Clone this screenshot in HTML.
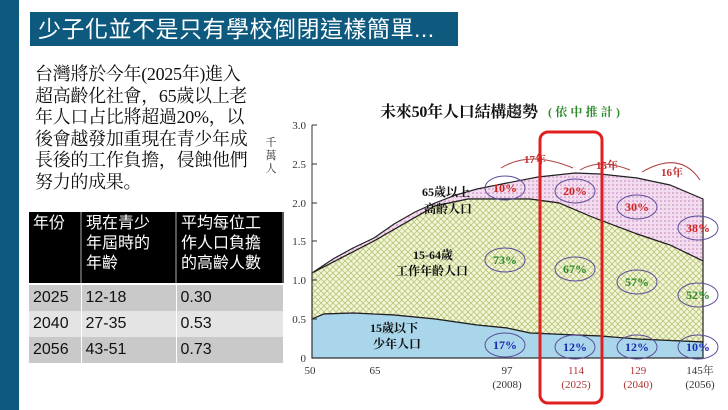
<!DOCTYPE html>
<html><head><meta charset="utf-8"><style>
body{margin:0;width:728px;height:410px;background:#fff;position:relative;overflow:hidden;font-family:"Liberation Sans","Noto Sans CJK TC",sans-serif}
.bar{position:absolute;left:0;top:0;width:19px;height:410px;background:#0d5a7e}
.title{position:absolute;left:30px;top:12px;width:428px;height:34px;background:#0d5a7e;color:#fff;font-size:23px;line-height:34px;padding-left:8px;box-sizing:border-box;white-space:nowrap;letter-spacing:0.5px}
.txt{position:absolute;left:35px;top:64px;width:240px;font-family:"Liberation Serif","Noto Serif CJK SC",serif;font-size:18px;line-height:21.5px;color:#111;white-space:nowrap;letter-spacing:-0.3px}
table{position:absolute;left:29px;top:212px;border-collapse:collapse;font-size:16px;color:#111}
td{padding:0 4px;border-right:1px solid #fff;vertical-align:top;white-space:nowrap}
tr.h td{background:#000;color:#fff;height:69px;line-height:20px;padding-top:2px;border-right:2px solid #555;border-bottom:2px solid #fff}
tr.a td{background:#c9c9c9;height:26px;line-height:26px}
tr.b td{background:#e4e4e4;height:26px;line-height:26px}
</style></head><body>
<div class="bar"></div>
<div class="title">少子化並不是只有學校倒閉這樣簡單...</div>
<div class="txt">台灣將於今年(2025年)進入<br>超高齡化社會，65歲以上老<br>年人口占比將超過20%，以<br>後會越發加重現在青少年成<br>長後的工作負擔，侵蝕他們<br>努力的成果。</div>
<table>
<tr class="h"><td style="width:43px">年份</td><td style="width:85px">現在青少<br>年屆時的<br>年齡</td><td style="width:97px">平均每位工<br>作人口負擔<br>的高齡人數</td></tr>
<tr class="a"><td>2025</td><td>12-18</td><td>0.30</td></tr>
<tr class="b"><td>2040</td><td>27-35</td><td>0.53</td></tr>
<tr class="a"><td>2056</td><td>43-51</td><td>0.73</td></tr>
</table>
<svg style="position:absolute;left:0;top:0" width="728" height="410" font-family="Liberation Serif,Noto Serif CJK TC,serif">
<defs>
<pattern id="pk" width="4" height="4" patternUnits="userSpaceOnUse"><rect width="4" height="4" fill="#f3dcef"/><circle cx="1" cy="1" r="0.8" fill="#c080b8"/></pattern>
<pattern id="gr" width="6" height="6" patternUnits="userSpaceOnUse"><rect width="6" height="6" fill="#f4f6d8"/><path d="M0 6L6 0M0 0L6 6" stroke="#b8c47a" stroke-width="0.8"/></pattern>
</defs>
<path d="M312,273 L333,259 353,248 374,238 394,224 415,212 435,203 456,195 477,189 507,183 538,177 575,173 600,174 637,178 670,185 703,199 L703,261 670,245 637,234 592,217 559,203 530,199 468,199 435,206 374,241 Z" fill="url(#pk)" stroke="#222" stroke-width="1.2"/>
<path d="M312,273 L374,241 435,206 468,199 530,199 559,203 592,217 637,234 670,245 703,261 L703,342 637,339 600,336 575,335 530,333 507,328 477,325 435,319 394,315 353,313 324,314 312,319 Z" fill="url(#gr)" stroke="#222" stroke-width="1.2"/>
<path d="M312,319 L324,314 353,313 394,315 435,319 477,325 507,328 530,333 575,335 600,336 637,339 703,342 L703,358 312,358 Z" fill="#a9d6ea" stroke="#222" stroke-width="1.2"/>
<g stroke="#333" stroke-width="1"><line x1="312" y1="125" x2="312" y2="358"/><line x1="312" y1="358" x2="703" y2="358"/>
<line x1="312" y1="125" x2="317" y2="125"/><line x1="312" y1="164" x2="317" y2="164"/><line x1="312" y1="203" x2="317" y2="203"/><line x1="312" y1="241" x2="317" y2="241"/><line x1="312" y1="280" x2="317" y2="280"/><line x1="312" y1="319" x2="317" y2="319"/></g>
<g font-size="11" fill="#333" text-anchor="end"><text x="306" y="129">3.0</text><text x="306" y="168">2.5</text><text x="306" y="207">2.0</text><text x="306" y="245">1.5</text><text x="306" y="284">1.0</text><text x="306" y="323">0.5</text><text x="306" y="362">0</text></g>
<g font-size="11" fill="#333" text-anchor="middle"><text x="310" y="374">50</text><text x="375" y="374">65</text><text x="507" y="374">97</text><text x="507" y="388">(2008)</text><text x="700" y="374">145年</text><text x="700" y="388">(2056)</text></g>
<g font-size="11" fill="#b03030" text-anchor="middle"><text x="576" y="374">114</text><text x="576" y="388">(2025)</text><text x="638" y="374">129</text><text x="638" y="388">(2040)</text></g>
<g font-size="11" fill="#333" text-anchor="middle"><text x="271" y="146">千</text><text x="271" y="159">萬</text><text x="271" y="172">人</text></g>
<text x="380" y="117" font-size="16" font-weight="bold" fill="#111" textLength="158">未來50年人口結構趨勢</text>
<text x="548" y="116" font-size="12" font-weight="bold" fill="#2a8a2a" textLength="72">(依中推計)</text>
<g font-size="12" font-weight="bold" fill="#111"><text x="422" y="196">65歲以上</text><text x="424" y="213">高齡人口</text><text x="413" y="259">15-64歲</text><text x="396" y="275">工作年齡人口</text><text x="370" y="332">15歲以下</text><text x="373" y="348">少年人口</text></g>
<g fill="none" stroke="#b04040" stroke-width="1"><path d="M501,168 Q530,150 573,168"/><path d="M580,170 Q600,158 630,170"/><path d="M642,172 Q680,150 700,180"/></g>
<g font-size="11" fill="#c03030" font-weight="bold"><text x="524" y="163">17年</text><text x="596" y="169">15年</text><text x="661" y="176">16年</text></g>
<g fill="none" stroke="#5a4c9a" stroke-width="1"><ellipse cx="505" cy="188" rx="20" ry="12"/><ellipse cx="575" cy="191" rx="20" ry="12"/><ellipse cx="637" cy="207" rx="20" ry="12"/><ellipse cx="698" cy="228" rx="20" ry="12"/><ellipse cx="505" cy="260" rx="20" ry="12"/><ellipse cx="575" cy="269" rx="20" ry="12"/><ellipse cx="637" cy="282" rx="20" ry="12"/><ellipse cx="698" cy="295" rx="20" ry="12"/><ellipse cx="505" cy="345" rx="20" ry="12"/><ellipse cx="575" cy="347" rx="20" ry="12"/><ellipse cx="637" cy="347" rx="20" ry="12"/><ellipse cx="698" cy="347" rx="20" ry="12"/></g>
<g font-size="12" font-weight="bold" text-anchor="middle">
<g fill="#d02020"><text x="505" y="192">10%</text><text x="575" y="195">20%</text><text x="637" y="211">30%</text><text x="698" y="232">38%</text></g>
<g fill="#2a8a2a"><text x="505" y="264">73%</text><text x="575" y="273">67%</text><text x="637" y="286">57%</text><text x="698" y="299">52%</text></g>
<g fill="#1a2ab0"><text x="505" y="349">17%</text><text x="575" y="351">12%</text><text x="637" y="351">12%</text><text x="698" y="351">10%</text></g></g>
<rect x="540" y="132" width="62" height="271" rx="8" fill="none" stroke="#e02020" stroke-width="3"/>
</svg>
</body></html>
